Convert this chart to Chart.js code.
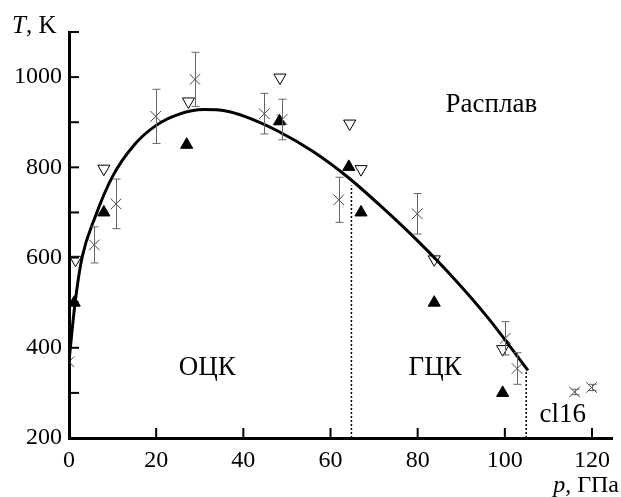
<!DOCTYPE html>
<html>
<head>
<meta charset="utf-8">
<script src="https://cdn.jsdelivr.net/npm/chart.js@4"></script>
<style>
  html, body { margin: 0; padding: 0; background: #fff; }
  canvas { display: block; }
</style>
</head>
<body>
<canvas id="chart" width="621" height="497"></canvas>
<script>
// solid triangles
const pSolid = [1.2, 8, 27, 48.3, 64.2, 67, 83.8, 99.5];
const tSolid = [500, 700, 850, 902, 801, 700, 500, 300];
// open (down) triangles
const pOpen = [1.5, 8, 27.4, 48.4, 64.4, 67, 83.8, 99.5];
const tOpen = [595, 797, 946, 999, 897, 796, 596, 397];
// crosses with error bars
const pCross = [0, 5.8, 10.8, 19.9, 28.9, 44.8, 48.9, 61.9, 79.9, 100.1, 102.8, 116, 119.9];
const tCross = [369, 628, 719, 913, 995, 919, 906, 728, 697, 421, 354, 302, 312];
const errCross = [0, 40, 55, 60, 60, 45, 45, 50, 45, 37, 35, 6, 7];
// melting curve
const pCurve = [0, 1.4, 3, 6, 10, 15, 20, 25, 31, 36, 40, 48, 56, 64, 72, 80, 88, 96, 105.3];
const tCurve = [370, 500, 600, 690, 780, 850, 893, 917, 928, 925, 914, 880, 835, 778, 710, 637, 557, 468, 350];
// phase boundaries (dotted)
const pBound = [64.8, 104.9];
const tBound = [760, 350];
// phase labels
const phaseText = ["Расплав", "ОЦК", "ГЦК", "cl16"];
const phaseP = [96.9, 31.7, 84.0, 113.3];
const phaseT = [923, 340, 340, 236];

const xTicks = [0, 20, 40, 60, 80, 100, 120];
const yTicks = [200, 300, 400, 500, 600, 700, 800, 900, 1000, 1100];
const yLabels = [200, 400, 600, 800, 1000];

const pts = (xs, ys) => xs.map((x, i) => ({ x: x, y: ys[i] }));
const serif = '"Liberation Serif", "Times New Roman", serif';
Chart.defaults.font.family = serif;

const extras = {
  id: "extras",
  afterDatasetsDraw(chart) {
    const { ctx, chartArea, scales: { x, y } } = chart;
    ctx.save();

    // error bars
    ctx.strokeStyle = "#666";
    ctx.lineWidth = 1;
    pCross.forEach((p, i) => {
      const e = errCross[i];
      if (!e) return;
      const px = Math.round(x.getPixelForValue(p)) + 0.5;
      const top = y.getPixelForValue(tCross[i] + e);
      const bot = y.getPixelForValue(tCross[i] - e);
      ctx.beginPath();
      ctx.moveTo(px, top); ctx.lineTo(px, bot);
      ctx.moveTo(px - 4, top); ctx.lineTo(px + 4, top);
      ctx.moveTo(px - 4, bot); ctx.lineTo(px + 4, bot);
      ctx.stroke();
    });

    // dotted boundaries
    ctx.strokeStyle = "#000";
    ctx.lineWidth = 1.5;
    ctx.setLineDash([2, 2]);
    pBound.forEach((p, i) => {
      const px = x.getPixelForValue(p);
      ctx.beginPath();
      ctx.moveTo(px, y.getPixelForValue(200));
      ctx.lineTo(px, y.getPixelForValue(tBound[i]));
      ctx.stroke();
    });
    ctx.setLineDash([]);

    // inward ticks
    ctx.lineWidth = 2;
    yTicks.forEach((v) => {
      const py = y.getPixelForValue(v);
      ctx.beginPath();
      ctx.moveTo(chartArea.left, py);
      ctx.lineTo(chartArea.left + 10, py);
      ctx.stroke();
    });
    xTicks.forEach((v) => {
      const px = x.getPixelForValue(v);
      ctx.beginPath();
      ctx.moveTo(px, chartArea.bottom);
      ctx.lineTo(px, chartArea.bottom - 10);
      ctx.stroke();
    });

    // phase labels
    ctx.fillStyle = "#000";
    ctx.font = "27px " + serif;
    ctx.textAlign = "center";
    ctx.textBaseline = "alphabetic";
    phaseText.forEach((t, i) => {
      ctx.fillText(t, x.getPixelForValue(phaseP[i]), y.getPixelForValue(phaseT[i]));
    });

    // axis titles
    ctx.textAlign = "left";
    ctx.font = "italic 25px " + serif;
    ctx.fillText("T", 12, 33);
    let w = ctx.measureText("T").width;
    ctx.font = "25px " + serif;
    ctx.fillText(", K", 12 + w, 33);

    ctx.textAlign = "right";
    ctx.font = "24px " + serif;
    const rest = ", ГПа";
    ctx.fillText(rest, 619, 492);
    w = ctx.measureText(rest).width;
    ctx.font = "italic 24px " + serif;
    ctx.fillText("p", 619 - w, 492);

    ctx.restore();
  }
};

new Chart(document.getElementById("chart"), {
  type: "scatter",
  data: {
    datasets: [
      {
        data: pts(pCurve, tCurve),
        showLine: true,
        borderColor: "#000",
        borderWidth: 3,
        pointRadius: 0,
        cubicInterpolationMode: "monotone"
      },
      {
        data: pts(pSolid, tSolid),
        pointStyle: "triangle",
        pointRadius: 7,
        backgroundColor: "#000",
        borderColor: "#000",
        borderWidth: 1
      },
      {
        data: pts(pOpen, tOpen),
        pointStyle: "triangle",
        rotation: 180,
        pointRadius: 7,
        backgroundColor: "rgba(255,255,255,0)",
        borderColor: "#000",
        borderWidth: 1
      },
      {
        data: pts(pCross, tCross),
        pointStyle: "crossRot",
        pointRadius: 7.5,
        borderColor: "#444",
        borderWidth: 1
      }
    ]
  },
  options: {
    responsive: false,
    animation: false,
    layout: { padding: { top: 32, left: 0, right: 0, bottom: 0 } },
    plugins: { legend: { display: false }, tooltip: { enabled: false } },
    scales: {
      x: {
        type: "linear",
        min: 0,
        max: 124.7,
        afterBuildTicks: (s) => { s.ticks = xTicks.map((v) => ({ value: v })); },
        afterFit: (s) => { s.height = 59; },
        grid: { display: false, drawTicks: false },
        border: { display: true, color: "#000", width: 3 },
        ticks: {
          color: "#000", font: { family: serif, size: 24 }, padding: 8, maxRotation: 0,
          callback: (v) => String(v)
        }
      },
      y: {
        type: "linear",
        min: 200,
        max: 1100,
        afterBuildTicks: (s) => { s.ticks = yLabels.map((v) => ({ value: v })); },
        afterFit: (s) => { s.width = 69; },
        grid: { display: false, drawTicks: false },
        border: { display: true, color: "#000", width: 3 },
        ticks: {
          color: "#000", font: { family: serif, size: 24 }, padding: 7,
          callback: (v) => String(v)
        }
      }
    }
  },
  plugins: [extras]
});
</script>
</body>
</html>
